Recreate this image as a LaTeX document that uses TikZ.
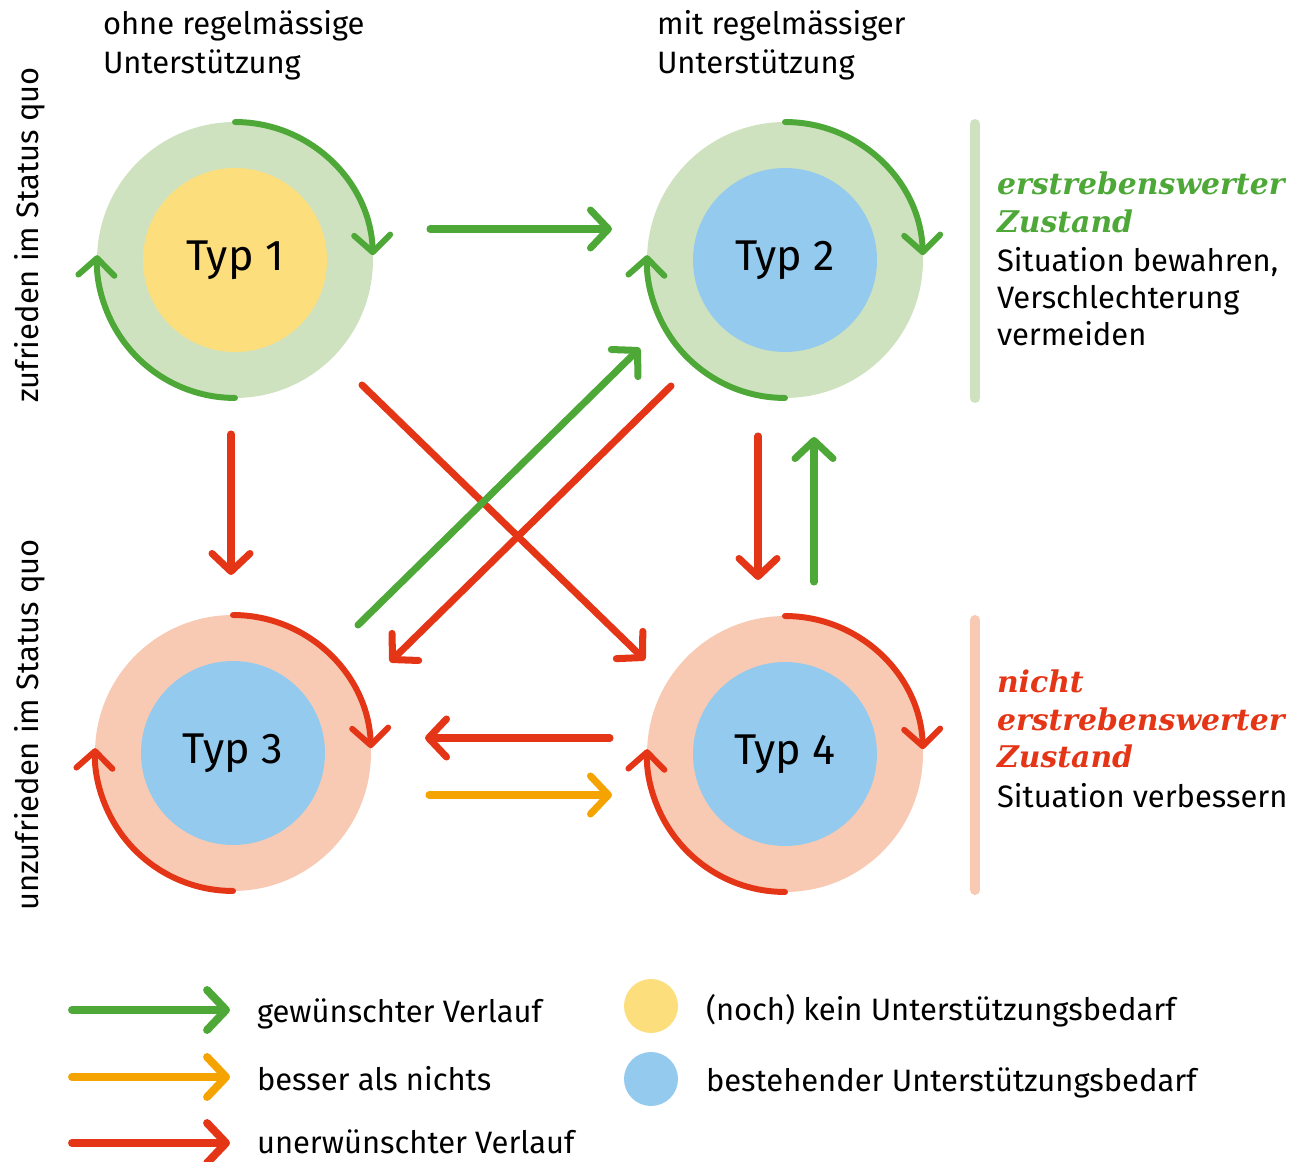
\documentclass[tikz,border=0pt]{standalone}
\usepackage{fontspec}
\setmainfont{Fira Sans}
\newfontfamily\zielserif{DejaVu Serif}
\definecolor{GoodGreen}{HTML}{4DA838}
\definecolor{BadRed}{HTML}{E53517}
\definecolor{OkOrange}{HTML}{F4A300}
\definecolor{SoftGreen}{HTML}{CFE2BF}
\definecolor{SoftRed}{HTML}{F8CAB3}
\definecolor{NoNeedYellow}{HTML}{FDDE7C}
\definecolor{NeedBlue}{HTML}{93CAEE}
\usetikzlibrary{arrows.meta}
\newcommand\zielfont{\fontsize{17}{21}\zielserif\bfseries\itshape}

\begin{document}
\begin{tikzpicture}[x=0.02cm, y=0.02cm,
    every node/.style={font=\fontsize{17.6}{22.7}\selectfont, inner sep=0pt, outer sep=0pt},
    ring/.style={circle, minimum size=5.52cm},
    core/.style={circle, minimum size=3.68cm, font=\fontsize{24.5}{28}\selectfont},
    flow/.style={line width=4pt, line cap=round, -{Straight Barb[length=3.6mm, width=7.6mm, round]}},
    roundtrip/.style={line width=3.4pt, line cap=round, -{Straight Barb[length=3.4mm, width=7.2mm, round]}},
    keyflow/.style={line width=4.5pt, line cap=round, -{Straight Barb[length=3.8mm, width=8mm, round]}},
    bar/.style={line width=5.7pt, line cap=round}]
      \useasboundingbox (0,0) rectangle (1291,1161);

      % Kopfzeilen
      \node[anchor=north west, align=left] (hdrleft) at (103,1151) {ohne regelmässige\\Unterstützung};
      \node[anchor=north west, align=left] (hdrright) at (657,1151) {mit regelmässiger\\Unterstützung};
      \node[rotate=90] (rowtop) at (30,926) {zufrieden im Status quo};
      \node[rotate=90] (rowbot) at (30,436) {unzufrieden im Status quo};

      % Typen
      \node[ring, fill=SoftGreen] (o1) at (235,901) {};
      \node[core, fill=NoNeedYellow] (t1) at (o1) {Typ 1};
      \node[ring, fill=SoftGreen] (o2) at (785,901) {};
      \node[core, fill=NeedBlue] (t2) at (o2) {Typ 2};
      \node[ring, fill=SoftRed] (o3) at (233,408) {};
      \node[core, fill=NeedBlue] (t3) at (o3) {Typ 3};
      \node[ring, fill=SoftRed] (o4) at (785,407) {};
      \node[core, fill=NeedBlue] (t4) at (o4) {Typ 4};

      % Kreislauf um jeden Typ
      \draw[roundtrip, GoodGreen] (o1.north) arc[start angle=90, end angle=2, radius=2.76cm];
      \draw[roundtrip, GoodGreen] (o1.south) arc[start angle=270, end angle=178, radius=2.76cm];
      \draw[roundtrip, GoodGreen] (o2.north) arc[start angle=90, end angle=2, radius=2.76cm];
      \draw[roundtrip, GoodGreen] (o2.south) arc[start angle=270, end angle=178, radius=2.76cm];
      \draw[roundtrip, BadRed] (o3.north) arc[start angle=90, end angle=2, radius=2.76cm];
      \draw[roundtrip, BadRed] (o3.south) arc[start angle=270, end angle=178, radius=2.76cm];
      \draw[roundtrip, BadRed] (o4.north) arc[start angle=90, end angle=2, radius=2.76cm];
      \draw[roundtrip, BadRed] (o4.south) arc[start angle=270, end angle=178, radius=2.76cm];

      % Verläufe
      \draw[flow, GoodGreen] ([shift={(195,31)}]o1.center) -- ([shift={(-173,31)}]o2.center);
      \draw[flow, BadRed] ([shift={(-4,-174)}]o1.center) -- ([shift={(-2,178)}]o3.center);
      \draw[flow, BadRed] ([shift={(127,-125)}]o1.center) -- ([shift={(-140,94)}]o4.center);
      \draw[flow, GoodGreen] ([shift={(125,128)}]o3.center) -- ([shift={(-145,-88)}]o2.center);
      \draw[flow, BadRed] ([shift={(-114,-126)}]o2.center) -- ([shift={(157,91)}]o3.center);
      \draw[flow, BadRed] ([shift={(-27,-176)}]o2.center) -- ([shift={(-27,174)}]o4.center);
      \draw[flow, GoodGreen] ([shift={(29,172)}]o4.center) -- ([shift={(29,-177)}]o2.center);
      \draw[flow, BadRed] ([shift={(-175,16)}]o4.center) -- ([shift={(192,15)}]o3.center);
      \draw[flow, OkOrange] ([shift={(196,-42)}]o3.center) -- ([shift={(-173,-41)}]o4.center);

      % Zustände rechts
      \draw[bar, SoftGreen] (975,1037) -- (975,763);
      \node[anchor=north west, align=left] (goodstate) at (997,989)
        {{\zielfont\color{GoodGreen}erstrebenswerter}\\[-1.3pt]{\zielfont\color{GoodGreen}Zustand}\\[-0.5pt]Situation bewahren,\\[-1.7pt]Verschlechterung\\[-1.7pt]vermeiden};
      \draw[bar, SoftRed] (975,541) -- (975,271);
      \node[anchor=north west, align=left] (badstate) at (997,491)
        {{\zielfont\color{BadRed}nicht}\\[-1.3pt]{\zielfont\color{BadRed}erstrebenswerter}\\[-1.3pt]{\zielfont\color{BadRed}Zustand}\\[0pt]Situation verbessern};

      % Legende
      \coordinate (kg0) at (72,151);
      \coordinate (kg1) at (230,151);
      \coordinate (ko0) at (72,84);
      \coordinate (ko1) at (230,84);
      \coordinate (kr0) at (72,18);
      \coordinate (kr1) at (230,18);
      \draw[keyflow, GoodGreen] (kg0) -- (kg1);
      \draw[keyflow, OkOrange] (ko0) -- (ko1);
      \draw[keyflow, BadRed] (kr0) -- (kr1);
      \node[anchor=base west] (kglabel) at (257,139) {gewünschter Verlauf};
      \node[anchor=base west] (kolabel) at (257,71) {besser als nichts};
      \node[anchor=base west] (krlabel) at (257,8) {unerwünschter Verlauf};
      \node[circle, fill=NoNeedYellow, minimum size=1.08cm] (kyellow) at (651,155) {};
      \node[circle, fill=NeedBlue, minimum size=1.08cm] (kblue) at (651,82) {};
      \node[anchor=base west] (kylabel) at (706,141) {(noch) kein Unterstützungsbedarf};
      \node[anchor=base west] (kblabel) at (706,70) {bestehender Unterstützungsbedarf};
    \end{tikzpicture}
\end{document}
